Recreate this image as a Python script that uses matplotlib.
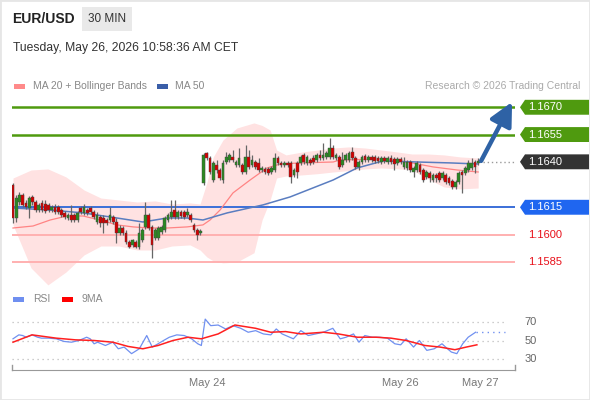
import numpy as np
import matplotlib.pyplot as plt
import matplotlib.transforms as mtransforms
from matplotlib.patches import Rectangle, Polygon

plt.rcParams['font.family'] = ['Liberation Sans', 'DejaVu Sans']

# 30 min candles
opens = [
    1.16273, 1.16091, 1.16179, 1.16218, 1.16174, 1.16146, 1.16207, 1.16179, 1.16135, 1.16174,
    1.16168, 1.16163, 1.16135, 1.16152, 1.16152, 1.16135, 1.16119, 1.16091, 1.16108, 1.16108,
    1.16080, 1.16146, 1.16119, 1.16135, 1.16146, 1.16124, 1.16069, 1.16097, 1.16091, 1.16080,
    1.16080, 1.16097, 1.16069, 1.16009, 1.16036, 1.16009, 1.15959, 1.15943, 1.15959, 1.15932,
    1.15970, 1.16042, 1.16108, 1.16042, 1.15981, 1.15981, 1.16014, 1.16025, 1.16080, 1.16097,
    1.16135, 1.16097, 1.16124, 1.16124, 1.16108, 1.16108, 1.16053, 1.16025, 1.16009,
    1.16284, 1.16449, 1.16421, 1.16300, 1.16383, 1.16355, 1.16300, 1.16399, 1.16410, 1.16427,
    1.16383, 1.16383, 1.16383, 1.16344, 1.16427, 1.16383, 1.16399, 1.16394, 1.16355, 1.16361,
    1.16361, 1.16344, 1.16355, 1.16421, 1.16394, 1.16383, 1.16394, 1.16394, 1.16328, 1.16394,
    1.16394, 1.16438, 1.16394, 1.16410, 1.16421, 1.16410, 1.16438, 1.16421, 1.16427, 1.16427,
    1.16476, 1.16421, 1.16427, 1.16383, 1.16410, 1.16410, 1.16454, 1.16421, 1.16372, 1.16399,
    1.16432, 1.16410, 1.16427, 1.16427, 1.16421, 1.16399, 1.16421, 1.16399, 1.16421, 1.16416,
    1.16394, 1.16416, 1.16372, 1.16366, 1.16399, 1.16344, 1.16355, 1.16383, 1.16355, 1.16317,
    1.16339, 1.16300, 1.16328, 1.16339, 1.16311, 1.16328, 1.16311, 1.16295, 1.16262, 1.16289,
    1.16344, 1.16339, 1.16355, 1.16366, 1.16399, 1.16394,
]
highs = [
    1.16284, 1.16218, 1.16234, 1.16229, 1.16190, 1.16212, 1.16218, 1.16190, 1.16174, 1.16190,
    1.16190, 1.16174, 1.16163, 1.16168, 1.16163, 1.16146, 1.16130, 1.16119, 1.16163, 1.16119,
    1.16130, 1.16157, 1.16168, 1.16146, 1.16157, 1.16135, 1.16124, 1.16108, 1.16108, 1.16091,
    1.16152, 1.16108, 1.16091, 1.16053, 1.16047, 1.16025, 1.15970, 1.15976, 1.15970, 1.16064,
    1.16036, 1.16179, 1.16119, 1.16053, 1.16036, 1.16047, 1.16053, 1.16102, 1.16119, 1.16190,
    1.16190, 1.16135, 1.16135, 1.16135, 1.16146, 1.16119, 1.16064, 1.16036, 1.16031,
    1.16449, 1.16454, 1.16432, 1.16405, 1.16410, 1.16366, 1.16410, 1.16454, 1.16449, 1.16465,
    1.16410, 1.16476, 1.16394, 1.16493, 1.16465, 1.16438, 1.16410, 1.16421, 1.16377, 1.16372,
    1.16372, 1.16377, 1.16449, 1.16432, 1.16405, 1.16405, 1.16405, 1.16405, 1.16366, 1.16405,
    1.16438, 1.16449, 1.16438, 1.16421, 1.16438, 1.16449, 1.16465, 1.16504, 1.16460, 1.16531,
    1.16493, 1.16449, 1.16438, 1.16454, 1.16449, 1.16460, 1.16482, 1.16432, 1.16410, 1.16438,
    1.16443, 1.16438, 1.16438, 1.16438, 1.16432, 1.16432, 1.16432, 1.16432, 1.16438, 1.16427,
    1.16427, 1.16427, 1.16427, 1.16410, 1.16410, 1.16377, 1.16405, 1.16394, 1.16366, 1.16355,
    1.16350, 1.16339, 1.16339, 1.16350, 1.16350, 1.16339, 1.16322, 1.16306, 1.16300, 1.16350,
    1.16355, 1.16377, 1.16410, 1.16421, 1.16410, 1.16421,
]
lows = [
    1.16064, 1.16069, 1.16163, 1.16152, 1.16141, 1.16091, 1.16163, 1.16124, 1.16124, 1.16124,
    1.16119, 1.16124, 1.16124, 1.16113, 1.16113, 1.16097, 1.16086, 1.16080, 1.16069, 1.16069,
    1.16069, 1.16113, 1.16108, 1.16108, 1.16113, 1.16086, 1.16058, 1.16042, 1.16009, 1.16053,
    1.16069, 1.16058, 1.15954, 1.15998, 1.15998, 1.15948, 1.15926, 1.15932, 1.15926, 1.15921,
    1.15959, 1.16031, 1.16025, 1.15871, 1.15970, 1.15970, 1.16003, 1.16014, 1.16069, 1.16086,
    1.16086, 1.16086, 1.16091, 1.16086, 1.16097, 1.16069, 1.16014, 1.15970, 1.15998,
    1.16273, 1.16410, 1.16333, 1.16289, 1.16339, 1.16300, 1.16284, 1.16388, 1.16399, 1.16399,
    1.16372, 1.16372, 1.16333, 1.16333, 1.16361, 1.16372, 1.16361, 1.16344, 1.16344, 1.16333,
    1.16328, 1.16333, 1.16344, 1.16383, 1.16372, 1.16372, 1.16372, 1.16284, 1.16317, 1.16311,
    1.16383, 1.16388, 1.16383, 1.16383, 1.16388, 1.16399, 1.16410, 1.16410, 1.16416, 1.16416,
    1.16416, 1.16410, 1.16361, 1.16372, 1.16399, 1.16399, 1.16410, 1.16361, 1.16355, 1.16388,
    1.16399, 1.16399, 1.16399, 1.16394, 1.16394, 1.16388, 1.16394, 1.16388, 1.16388, 1.16355,
    1.16383, 1.16388, 1.16361, 1.16355, 1.16344, 1.16317, 1.16344, 1.16333, 1.16289, 1.16306,
    1.16289, 1.16289, 1.16289, 1.16289, 1.16300, 1.16278, 1.16273, 1.16251, 1.16251, 1.16278,
    1.16229, 1.16328, 1.16344, 1.16355, 1.16339, 1.16383,
]
closes = [
    1.16091, 1.16201, 1.16218, 1.16163, 1.16152, 1.16201, 1.16179, 1.16135, 1.16163, 1.16135,
    1.16130, 1.16135, 1.16152, 1.16124, 1.16124, 1.16108, 1.16097, 1.16108, 1.16080, 1.16080,
    1.16119, 1.16124, 1.16152, 1.16119, 1.16124, 1.16097, 1.16108, 1.16064, 1.16064, 1.16064,
    1.16108, 1.16069, 1.16009, 1.16036, 1.16009, 1.15959, 1.15932, 1.15970, 1.15932, 1.16009,
    1.16025, 1.16108, 1.16036, 1.15943, 1.16025, 1.16036, 1.16042, 1.16091, 1.16108, 1.16124,
    1.16097, 1.16124, 1.16102, 1.16097, 1.16124, 1.16080, 1.16025, 1.15998, 1.16020,
    1.16438, 1.16421, 1.16344, 1.16394, 1.16355, 1.16311, 1.16394, 1.16427, 1.16438, 1.16410,
    1.16399, 1.16421, 1.16344, 1.16427, 1.16372, 1.16410, 1.16372, 1.16355, 1.16366, 1.16344,
    1.16339, 1.16366, 1.16421, 1.16394, 1.16383, 1.16394, 1.16383, 1.16317, 1.16355, 1.16344,
    1.16427, 1.16399, 1.16427, 1.16394, 1.16399, 1.16438, 1.16421, 1.16438, 1.16449, 1.16476,
    1.16427, 1.16438, 1.16372, 1.16410, 1.16438, 1.16449, 1.16421, 1.16372, 1.16399, 1.16427,
    1.16410, 1.16427, 1.16410, 1.16405, 1.16405, 1.16421, 1.16405, 1.16421, 1.16399, 1.16388,
    1.16416, 1.16399, 1.16399, 1.16399, 1.16355, 1.16366, 1.16394, 1.16344, 1.16300, 1.16344,
    1.16311, 1.16328, 1.16311, 1.16300, 1.16339, 1.16289, 1.16284, 1.16262, 1.16289, 1.16339,
    1.16328, 1.16366, 1.16394, 1.16394, 1.16372, 1.16405,
]

# Bollinger band / MA 20 (positions in candle index)
bb_x = [0, 5.6, 10.8, 16.4, 22, 27.2, 32.8, 38.4, 44, 49.2, 54.8, 57.9, 60, 62, 65, 69.3,
        74.6, 77.1, 79.6, 81.6, 84.5, 89.5, 94.4, 99.1, 104, 109, 114, 119, 123.5, 128.5,
        133.4, 138.4, 144]
bb_upper = [1.16311, 1.16355, 1.16361, 1.16317, 1.16245, 1.16201, 1.16190, 1.16179, 1.16185,
            1.16168, 1.16174, 1.16168, 1.16284, 1.16427, 1.16520, 1.16586, 1.16614, 1.16600,
            1.16575, 1.16465, 1.16438, 1.16454, 1.16465, 1.16476, 1.16482, 1.16476, 1.16465,
            1.16454, 1.16443, 1.16443, 1.16438, 1.16427, 1.16421]
bb_lower = [1.16053, 1.15816, 1.15723, 1.15794, 1.15888, 1.15937, 1.15937, 1.15915, 1.15915,
            1.15937, 1.15943, 1.15915, 1.15877, 1.15855, 1.15844, 1.15849, 1.15900, 1.16080,
            1.16190, 1.16311, 1.16322, 1.16328, 1.16335, 1.16344, 1.16352, 1.16361, 1.16366,
            1.16362, 1.16355, 1.16305, 1.16262, 1.16251, 1.16256]
ma20_x = [0, 6.2, 11.5, 16.7, 21.7, 26.9, 32.2, 37.2, 42.4, 47.7, 53.9, 58.8, 61, 64.1, 68.1,
          73.4, 78.6, 82.7, 88.9, 99.1, 101.2, 114.6, 122, 130, 137.5, 144]
ma20 = [1.16036, 1.16047, 1.16080, 1.16102, 1.16102, 1.16080, 1.16053, 1.16042, 1.16036,
        1.16036, 1.16042, 1.16053, 1.16080, 1.16135, 1.16229, 1.16300, 1.16366, 1.16388,
        1.16394, 1.16399, 1.16410, 1.16416, 1.16399, 1.16372, 1.16355, 1.16344]
ma50_x = [0, 11.5, 21.7, 32.2, 40.2, 47.7, 53.9, 58.8, 66.3, 77.4, 85.8, 99.1, 106.5, 114.6,
          125.1, 135.3, 144]
ma50 = [1.16146, 1.16135, 1.16119, 1.16091, 1.16069, 1.16091, 1.16091, 1.16080, 1.16119,
        1.16163, 1.16207, 1.16300, 1.16366, 1.16405, 1.16399, 1.16394, 1.16388]

# RSI panel
rsi_x = [0, 1.8, 3, 4.1, 5.9, 7.6, 8.8, 11.1, 13.4, 15.8, 18.1, 20.4, 22.8, 23.9, 25.1, 26.2,
         28.6, 30.9, 32.6, 34.4, 36.7, 39.1, 41.4, 43.1, 44.9, 46.6, 48.4, 50.7, 53, 55.3,
         57.2, 58.3, 59.5, 61.2, 63.5, 65.8, 68.1, 70.5, 72.8, 75.1, 77.5, 79.8, 81.5, 83.3,
         86.8, 89.1, 91.4, 93.7, 96.1, 99, 101.3, 103.1, 105.4, 107.1, 108.9, 111.2, 113.5,
         115.9, 118.2, 120, 121.7, 124, 125.8, 128.1, 130.4, 132.8, 134.5, 135.7, 137.4,
         139.2, 140.9, 143.2]
rsi = [51.8, 56, 55.3, 53.5, 56, 53.5, 52.5, 52.5, 51.8, 49, 48.2, 50, 53.5, 51.8, 46.5, 48.2,
       44.7, 48.2, 41.2, 43, 36, 41.2, 55.3, 43, 46.5, 50, 53.5, 56, 55.3, 51.8,
       46.5, 44.7, 72.8, 65.8, 66.5, 62.3, 65.8, 63, 58.8, 60.5, 57, 56, 62.3, 57,
       51.8, 60.5, 55.3, 57, 58.8, 63, 51.8, 53.5, 57, 48.2, 55.3, 53.5, 53.5,
       52.5, 46.5, 45.4, 51.8, 43, 50, 39.5, 41.2, 46.5, 41.2, 37.7, 36,
       46.5, 53.5, 58.8]
rsi_ma_x = [0, 5.9, 13.4, 19.3, 25.1, 30.9, 35.6, 40.2, 44.9, 49.5, 54.2, 58.3, 63.5, 68.7,
            75.1, 79.8, 84.4, 89.1, 96.1, 100.7, 106.6, 112.4, 117, 121.7, 127.5, 132.2,
            136.8, 140.3, 143.6]
rsi_ma = [48.2, 56, 52.5, 50.7, 50, 48.2, 43.7, 41.2, 44.7, 50, 53.5, 51.8, 57, 66.5,
          63, 58.8, 59.5, 57, 58.8, 57, 53.5, 53.5, 52.5, 50, 44.7, 43, 40.2, 43, 45.4]

levels = [1.1670, 1.1655, 1.1640, 1.1615, 1.1600, 1.1585]
level_labels = ['1.1670', '1.1655', '1.1640', '1.1615', '1.1600', '1.1585']
tick_pos = [60.1, 119.8, 144.6]
tick_labels = ['May 24', 'May 26', 'May 27']

W, H = 590, 400
def fx(px):
    return px / W
def fy(py):
    return 1 - py / H

fig = plt.figure(figsize=(5.9, 4.0), dpi=100)
fig.patch.set_facecolor('white')

xlim = (-0.31, 155.4)

# ---- price panel ----
ax = fig.add_axes([fx(12), fy(290), 503 / W, 195 / H])
ax.set_xlim(*xlim)
ax.set_ylim(1.15695, 1.167675)
ax.axis('off')

ax.fill_between(bb_x, bb_lower, bb_upper, color='#ffe2e2', lw=0, zorder=1)
ax.plot(ma20_x, ma20, color='#ff8484', lw=0.9, zorder=2)
ax.plot(ma50_x, ma50, color='#5a7dc0', lw=1.1, zorder=2)

ax.axhline(levels[0], color='#4f9a0f', lw=1.8, zorder=1.5)
ax.axhline(levels[1], color='#4f9a0f', lw=1.8, zorder=1.5)
ax.axhline(levels[3], color='#3b6fd8', lw=1.4, zorder=1.5)
ax.axhline(levels[4], color='#ffb0b0', lw=1.4, zorder=1.5)
ax.axhline(levels[5], color='#ffb0b0', lw=1.4, zorder=1.5)
ax.hlines(levels[2], 145.5, xlim[1], colors='#9a9a9a', linestyles=(0, (1, 2)), lw=1)

o = np.array(opens)
c = np.array(closes)
hi = np.array(highs)
lo = np.array(lows)
x = np.arange(len(o))
up = c >= o
col = np.where(up, '#2b8a22', '#d40000')
ax.vlines(x, lo, hi, colors='#666666', lw=0.9, zorder=3)
body = np.maximum(np.abs(c - o), 0.00004)
ax.bar(x, body, bottom=np.minimum(o, c), width=0.85, color=col, edgecolor='#444444',
       lw=0.3, zorder=4)

# projection arrow
ax.annotate('', xy=(154.5, 1.16729), xytext=(144.9, 1.16405),
            arrowprops=dict(arrowstyle='-|>,head_length=1.0,head_width=0.5',
                            mutation_scale=14, lw=3.2, color='#2e62a5',
                            shrinkA=0, shrinkB=0),
            annotation_clip=False, zorder=5)

# right-hand level tags
trans = mtransforms.blended_transform_factory(ax.transAxes, ax.transData)
tag_colors = ['#4f9a0f', '#4f9a0f', '#333333', '#1f66f0']
h = 0.00041
for lvl, lab, tc in zip(levels[:4], level_labels[:4], tag_colors):
    poly = Polygon([(1.0099, lvl), (1.0199, lvl + h), (1.1471, lvl + h),
                    (1.1471, lvl - h), (1.0199, lvl - h)], closed=True,
                   transform=trans, facecolor=tc, edgecolor='none', clip_on=False)
    ax.add_patch(poly)
    ax.text(1.0269, lvl, lab, transform=trans, color='white', fontsize=8,
            va='center', ha='left')
for lvl, lab in zip(levels[4:], level_labels[4:]):
    ax.text(1.0269, lvl, lab, transform=trans, color='#e8101a', fontsize=8,
            va='center', ha='left')

# ---- RSI panel ----
ax2 = fig.add_axes([fx(12), fy(370), 503 / W, 65 / H])
ax2.set_xlim(*xlim)
ax2.set_ylim(18.6, 87.8)
for s in ['top', 'left', 'right']:
    ax2.spines[s].set_visible(False)
ax2.spines['bottom'].set_color('#999999')
ax2.set_yticks([])
ax2.set_xticks(tick_pos, tick_labels)
ax2.tick_params(axis='x', length=0, colors='#777777', labelsize=8, pad=6)
ax2.plot([0, 0], [0, 0.08], transform=ax2.transAxes, color='#999999', lw=1, clip_on=False)
ax2.plot([1, 1], [0, 0.08], transform=ax2.transAxes, color='#999999', lw=1, clip_on=False)

trans2 = mtransforms.blended_transform_factory(ax2.transAxes, ax2.transData)
for v in [30, 50, 70]:
    ax2.hlines(v, xlim[0], 152.3, colors='#bdbdbd', linestyles=(0, (1, 3)), lw=0.9)
    ax2.text(1.0318, v, str(v), transform=trans2, color='#666666', fontsize=8,
             ha='center', va='center')

ax2.plot(rsi_x, rsi, color='#7090f0', lw=0.9)
ax2.hlines(rsi[-1], rsi_x[-1], 152.3, colors='#7090f0', linestyles=(0, (1, 3)), lw=1)
ax2.plot(rsi_ma_x, rsi_ma, color='#ff2020', lw=1.1)

# ---- header and legends ----
fig.text(fx(12), fy(19), 'EUR/USD', fontsize=10, fontweight='bold', color='#222222',
         va='center', ha='left')
fig.add_artist(Rectangle((fx(82), fy(31)), 50 / W, 24 / H, transform=fig.transFigure,
                         facecolor='#e9e9e9', edgecolor='none'))
fig.text(fx(107), fy(19), '30 MIN', fontsize=8.5, color='#333333', va='center', ha='center')
fig.text(fx(13), fy(48), 'Tuesday, May 26, 2026 10:58:36 AM CET', fontsize=8.7,
         color='#333333', va='center', ha='left')

def legend_item(px, py, color, label, tx):
    fig.add_artist(Rectangle((fx(px), fy(py + 2.5)), 11 / W, 5 / H,
                             transform=fig.transFigure, facecolor=color, edgecolor='none'))
    fig.text(fx(tx), fy(py), label, fontsize=7.5, color='#888888', va='center', ha='left')

legend_item(14, 86, '#ff8a8a', 'MA 20 + Bollinger Bands', 33)
legend_item(157, 86, '#3a5ea8', 'MA 50', 175)
fig.text(fx(580), fy(86), 'Research \u00a9 2026 Trading Central', fontsize=7.5,
         color='#aaaaaa', va='center', ha='right')
legend_item(13, 299, '#6f8ff0', 'RSI', 33)
legend_item(62, 299, '#ff0000', '9MA', 82)

fig.add_artist(Rectangle((0, 0), 1, 1, transform=fig.transFigure, fill=False,
                         edgecolor='#e6e6e6', lw=2))

fig.savefig('out.png', dpi=100)
